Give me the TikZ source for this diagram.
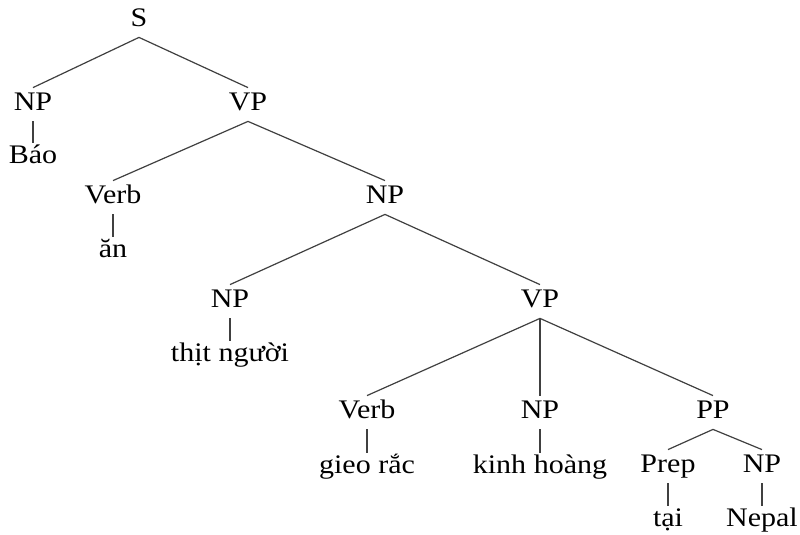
\documentclass[tikz,border=0pt]{standalone}
\usepackage{fontspec}
\setmainfont{Liberation Serif}[FakeStretch=1.12]
\begin{document}
\begin{tikzpicture}[x=0.5pt,y=-0.5pt,
  cat/.style={anchor=base,inner sep=0pt,text height=11.5pt,text depth=5pt,font=\fontsize{13.4}{15}\selectfont},
  leaf/.style={anchor=base,inner sep=0pt,text height=10.5pt,text depth=0pt,font=\fontsize{13.4}{15}\selectfont},
  edge/.style={draw=black!75,line width=0.6pt}]
\fill[white] (0,0) rectangle (800,535);
\useasboundingbox (0,0) rectangle (800,535);
% categories
\node[cat] (s)    at (139,27)  {S};
\node[cat] (np1)  at (33,111)  {NP};
\node[cat] (vp1)  at (248,111) {VP};
\node[cat] (v1)   at (113,204) {Verb};
\node[cat] (np2)  at (385,204) {NP};
\node[cat] (np3)  at (230,308) {NP};
\node[cat] (vp2)  at (540,308) {VP};
\node[cat] (v2)   at (367,419) {Verb};
\node[cat] (np4)  at (540,419) {NP};
\node[cat] (pp)   at (713,419) {PP};
\node[cat] (prep) at (668,473) {Prep};
\node[cat] (np5)  at (762,473) {NP};
% words
\node[leaf] (w1) at (33,164)  {Báo};
\node[leaf] (w2) at (113,258) {ăn};
\node[leaf] (w3) at (230,362) {thịt người};
\node[leaf] (w4) at (367,474) {gieo rắc};
\node[leaf] (w5) at (540,474) {kinh hoàng};
\node[leaf] (w6) at (668,527) {tại};
\node[leaf] (w7) at (762,527) {Nepal};
% branches
\foreach \p/\c in {s/np1,s/vp1,np1/w1,vp1/v1,vp1/np2,v1/w2,np2/np3,np2/vp2,np3/w3,
  vp2/v2,vp2/np4,vp2/pp,v2/w4,np4/w5,pp/prep,pp/np5,prep/w6,np5/w7}
  \draw[edge] (\p.south) -- (\c.north);
\end{tikzpicture}
\end{document}
